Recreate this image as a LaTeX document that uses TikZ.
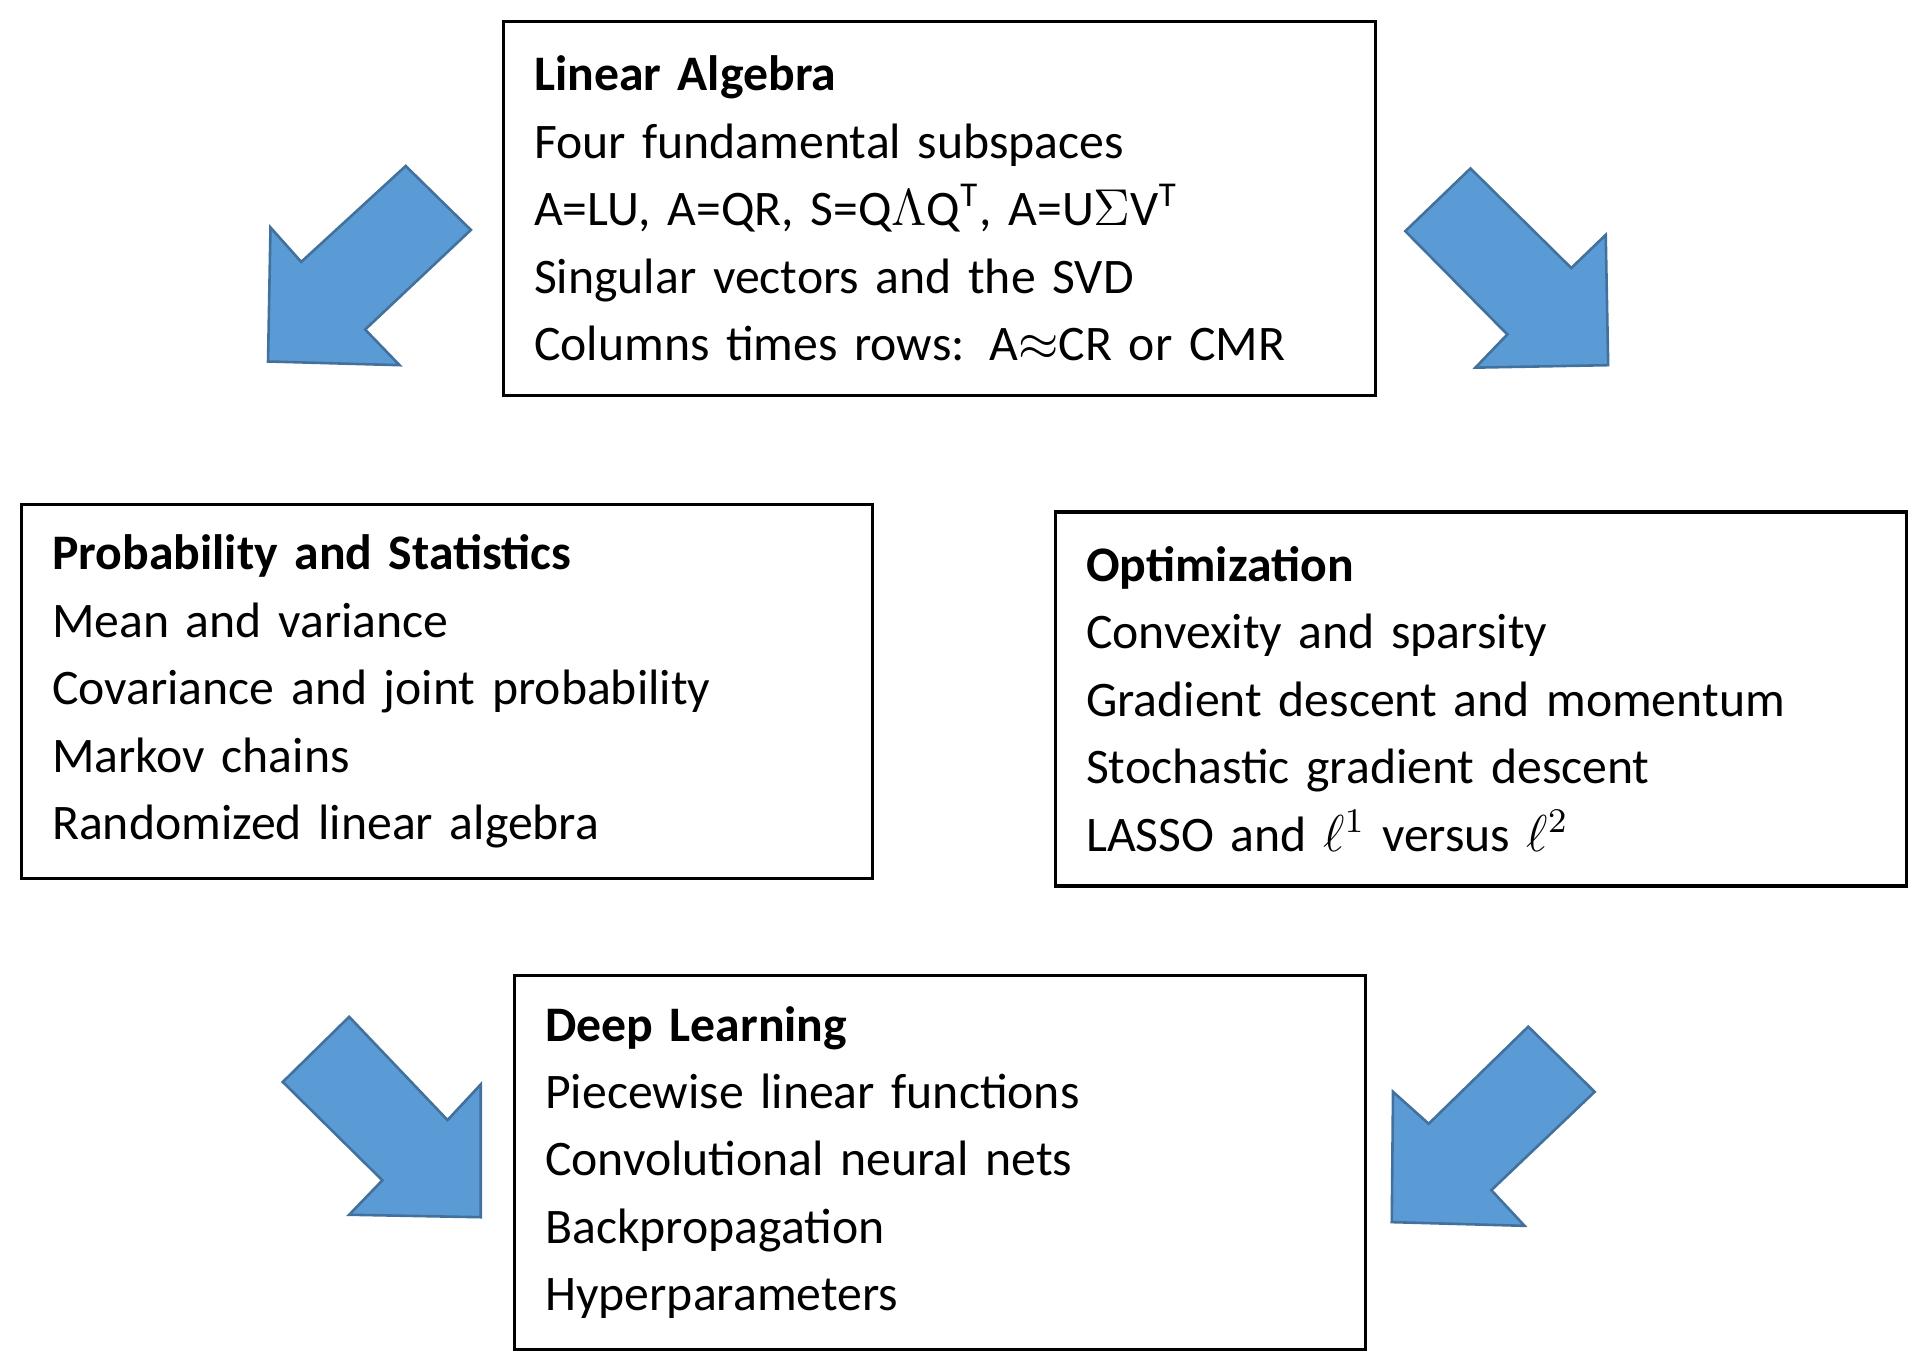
\documentclass[tikz,border=0pt]{standalone}
\usepackage{fontspec}
\setmainfont{Carlito}
\tikzset{
	topic/.style={draw, thick, anchor=north west, align=left, inner xsep=0.25cm,
		minimum height=3.04cm, font=\fontsize{11.5}{15.6}\selectfont},
	bigarrow/.style={fill={rgb,255:red,91;green,155;blue,213}, draw={rgb,255:red,65;green,113;blue,156}, line width=0.6pt}
}
\begin{document}
\begin{tikzpicture}[x=0.01cm,y=-0.01cm]
	\useasboundingbox (0,0) rectangle (1560,1108);
	
	% boxes
	\node[topic, text width=6.59cm] (linalg) at (408,16) {\textbf{Linear Algebra}\\
		Four fundamental subspaces\\
		A=LU, A=QR, S=Q$\Lambda$Q\textsuperscript{T}, A=U$\Sigma$V\textsuperscript{T}\\
		Singular vectors and the SVD\\
		Columns times rows: A$\approx$CR or CMR};
	\node[topic, text width=6.42cm] (probstat) at (16,409) {\textbf{Probability and Statistics}\\
		Mean and variance\\
		Covariance and joint probability\\
		Markov chains\\
		Randomized linear algebra};
	\node[topic, text width=6.42cm] (optim) at (857,415) {\textbf{Optimization}\\
		Convexity and sparsity\\
		Gradient descent and momentum\\
		Stochastic gradient descent\\
		LASSO and $\ell^1$ versus $\ell^2$};
	\node[topic, text width=6.42cm] (deep) at (417,792) {\textbf{Deep Learning}\\
		Piecewise linear functions\\
		Convolutional neural nets\\
		Backpropagation\\
		Hyperparameters};
	
	% block arrows
	\draw[bigarrow] (330,135) -- (383,187) -- (297,268) -- (325,297) -- (218,294) -- (220,185) -- (245,213) -- cycle;
	\draw[bigarrow] (1143,188) -- (1196,137) -- (1278,218) -- (1306,191) -- (1308,297) -- (1200,299) -- (1226,272) -- cycle;
	\draw[bigarrow] (230,880) -- (284,827) -- (364,911) -- (391,882) -- (391,990) -- (284,988) -- (311,960) -- cycle;
	\draw[bigarrow] (1243,835) -- (1297,888) -- (1213,968) -- (1240,997) -- (1132,994) -- (1133,888) -- (1162,914) -- cycle;
	
\end{tikzpicture}
\end{document}
